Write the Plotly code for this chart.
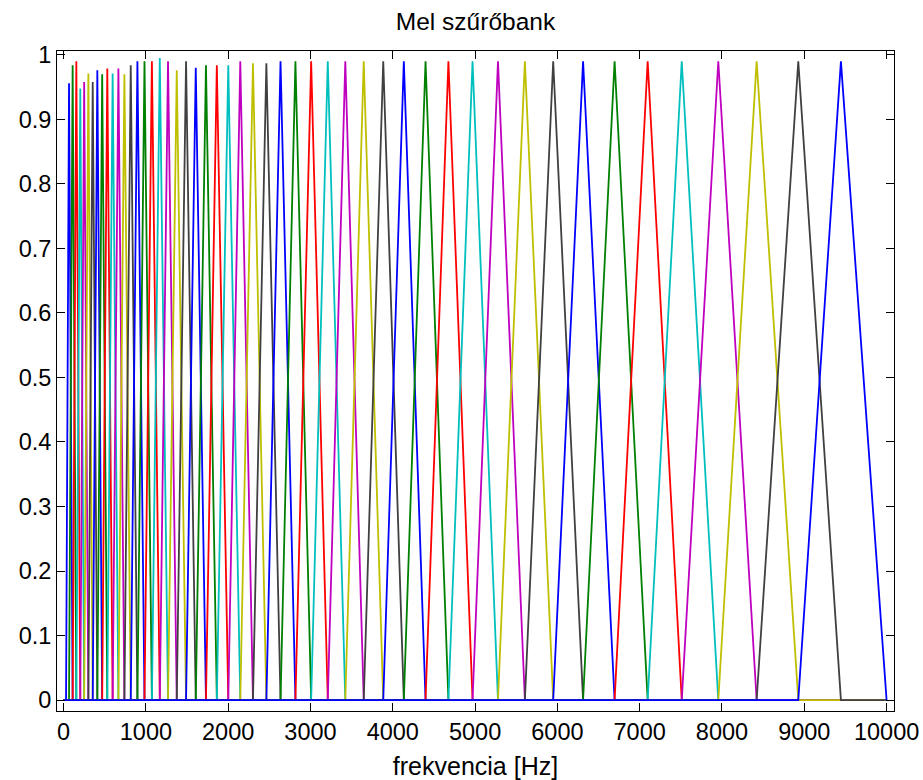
import plotly.graph_objects as go

# Filter edge / centre frequencies (Hz):
# filter k rises from edges_hz[k-1], peaks at edges_hz[k], falls to edges_hz[k+1]
edges_hz = [30, 66, 110, 155, 203, 250, 301, 354, 410, 469, 531, 596, 666, 739,
            816, 897, 983, 1073, 1169, 1269, 1375, 1488, 1606, 1730, 1862, 2001,
            2147, 2301, 2464, 2636, 2817, 3008, 3210, 3423, 3647, 3884, 4134, 4398,
            4676, 4969, 5278, 5605, 5949, 6312, 6695, 7097, 7511, 7955, 8421, 8927,
            9445, 10000]

# Peak height of each of the 50 filters
peak_heights = [0.956, 0.984, 0.99, 0.948, 0.958, 0.971, 0.958, 0.976, 0.97, 0.979,
                0.971, 0.979, 0.97, 0.984, 0.99, 0.99, 0.99, 0.995, 0.99, 0.976,
                0.99, 0.98, 0.984, 0.984, 0.984, 0.99, 0.987, 0.987, 0.99, 0.99,
                0.99, 0.99, 0.99, 0.99, 0.99, 0.99, 0.99, 0.99, 0.99, 0.99,
                0.99, 0.99, 0.99, 0.99, 0.99, 0.99, 0.99, 0.99, 0.99, 0.99]

freq_start = 0
freq_end = 10000

# MATLAB classic colour order: b g r c m y k
line_colors = ["rgb(0,0,255)", "rgb(0,128,0)", "rgb(255,0,0)", "rgb(0,191,191)",
               "rgb(191,0,191)", "rgb(191,191,0)", "rgb(64,64,64)"]

title_text = "Mel szűrőbank"
xlabel_text = "frekvencia [Hz]"
x_ticks = [0, 1000, 2000, 3000, 4000, 5000, 6000, 7000, 8000, 9000, 10000]
y_ticks = [0, 0.1, 0.2, 0.3, 0.4, 0.5, 0.6, 0.7, 0.8, 0.9, 1]

fig = go.Figure()
for i, pk in enumerate(peak_heights):
    fig.add_trace(go.Scatter(
        x=[freq_start, edges_hz[i], edges_hz[i + 1], edges_hz[i + 2], freq_end],
        y=[0, 0, pk, 0, 0],
        mode="lines",
        line=dict(color=line_colors[i % len(line_colors)], width=1.8),
        showlegend=False,
        hoverinfo="skip",
    ))

font_family = "Liberation Sans, Arial, sans-serif"
axis_common = dict(
    ticks="inside", ticklen=8, tickwidth=1, tickcolor="black",
    showline=True, linecolor="black", linewidth=1, mirror="ticks",
    showgrid=False, zeroline=False, automargin=False,
    tickfont=dict(family=font_family, size=23.5, color="black"),
)

fig.update_layout(
    width=923, height=780,
    margin=dict(l=57, r=29, t=51, b=69),
    paper_bgcolor="white", plot_bgcolor="white",
    title=dict(text=title_text, x=0.5, xref="paper", xanchor="center",
               y=1 - 21 / 780, yref="container", yanchor="middle",
               font=dict(family=font_family, size=24.5, color="black")),
    xaxis=dict(range=[-80, 10090], tickvals=x_ticks, tickformat="d",
               title=dict(text=xlabel_text, standoff=14,
                          font=dict(family=font_family, size=25, color="black")),
               **axis_common),
    yaxis=dict(range=[-0.017, 1.006], tickvals=y_ticks, **axis_common),
)

fig.write_html("out.html")
